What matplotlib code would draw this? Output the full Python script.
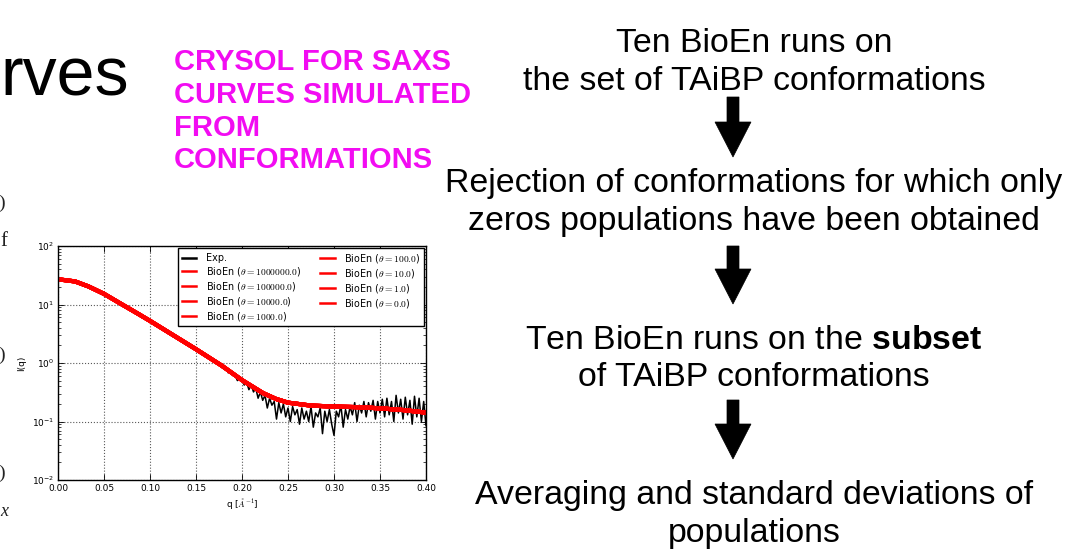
import numpy as np
import matplotlib
matplotlib.use("Agg")
import matplotlib.pyplot as plt
from matplotlib.patches import Polygon
from matplotlib.font_manager import FontProperties

W, H = 1070, 549

# ---------------- data ----------------
bioen_thetas = ["1000000.0", "100000.0", "10000.0", "1000.0",
                "100.0", "10.0", "1.0", "0.0"]

model_q = [0.004, 0.0185, 0.033, 0.05, 0.0692, 0.0873, 0.1, 0.1236, 0.15,
           0.178, 0.2, 0.212, 0.223, 0.237, 0.25, 0.275, 0.3, 0.325, 0.35,
           0.375, 0.4]
model_I = [26.5, 24.8, 20.4, 15.2, 10.1, 6.9, 5.25, 3.1, 1.72,
           0.9, 0.51, 0.39, 0.305, 0.243, 0.21, 0.187, 0.18, 0.176, 0.168,
           0.157, 0.142]

exp_q_low = [0.003, 0.0185, 0.033, 0.05, 0.0692, 0.0873, 0.1, 0.1236, 0.15, 0.165]
exp_I_low = [27.5, 24.8, 20.4, 15.2, 10.1, 6.9, 5.25, 3.1, 1.72, 1.2]

exp_q_tail = [0.1700, 0.1725, 0.1750, 0.1775, 0.1800, 0.1825, 0.1850, 0.1875,
              0.1900, 0.1925, 0.1950, 0.1975, 0.2000, 0.2025, 0.2050, 0.2075,
              0.2100, 0.2125, 0.2150, 0.2175, 0.2200, 0.2225, 0.2250, 0.2275,
              0.2300, 0.2325, 0.2350, 0.2375, 0.2400, 0.2425, 0.2450, 0.2475,
              0.2500, 0.2525, 0.2550, 0.2575, 0.2600, 0.2625, 0.2650, 0.2675,
              0.2700, 0.2725, 0.2750, 0.2775, 0.2800, 0.2825, 0.2850, 0.2875,
              0.2900, 0.2925, 0.2950, 0.2975, 0.3000, 0.3025, 0.3050, 0.3075,
              0.3100, 0.3125, 0.3150, 0.3175, 0.3200, 0.3225, 0.3250, 0.3275,
              0.3300, 0.3325, 0.3350, 0.3375, 0.3400, 0.3425, 0.3450, 0.3475,
              0.3500, 0.3525, 0.3550, 0.3575, 0.3600, 0.3625, 0.3650, 0.3675,
              0.3700, 0.3725, 0.3750, 0.3775, 0.3800, 0.3825, 0.3850, 0.3875,
              0.3900, 0.3925, 0.3950, 0.3975, 0.4000]
exp_I_tail = [1.05, 0.98, 0.96, 0.86, 0.80, 0.82, 0.68, 0.72,
              0.61, 0.63, 0.50, 0.56, 0.50, 0.42, 0.47, 0.35,
              0.42, 0.32, 0.37, 0.25, 0.32, 0.23, 0.28, 0.17,
              0.25, 0.19, 0.22, 0.11, 0.21, 0.14, 0.20, 0.12,
              0.17, 0.10, 0.18, 0.13, 0.16, 0.09, 0.17, 0.11,
              0.15, 0.10, 0.18, 0.08, 0.14, 0.12, 0.17, 0.062,
              0.15, 0.10, 0.16, 0.09, 0.058, 0.15, 0.12, 0.19,
              0.08, 0.16, 0.11, 0.18, 0.13, 0.21, 0.10, 0.19,
              0.14, 0.22, 0.12, 0.21, 0.15, 0.23, 0.11, 0.22,
              0.14, 0.24, 0.12, 0.25, 0.13, 0.22, 0.10, 0.28,
              0.14, 0.24, 0.11, 0.26, 0.13, 0.23, 0.09, 0.27,
              0.12, 0.25, 0.10, 0.22, 0.085]

x_ticks = [0.00, 0.05, 0.10, 0.15, 0.20, 0.25, 0.30, 0.35, 0.40]
x_ticklabels = ["0.00", "0.05", "0.10", "0.15", "0.20", "0.25", "0.30", "0.35", "0.40"]

flow_steps = [
    ["Ten BioEn runs on", "the set of TAiBP conformations"],
    ["Rejection of conformations for which only", "zeros populations have been obtained"],
    [r"Ten BioEn runs on the $\bf{subset}$", "of TAiBP conformations"],
    ["Averaging and standard deviations of", "populations"],
]
magenta_lines = ["CRYSOL FOR SAXS", "CURVES SIMULATED", "FROM", "CONFORMATIONS"]

# ---------------- figure ----------------
plt.rcParams['font.family'] = ['Liberation Sans', 'DejaVu Sans']
plt.rcParams['mathtext.bf'] = 'Liberation Sans:bold'
fig = plt.figure(figsize=(W / 100, H / 100), dpi=100)
fig.patch.set_facecolor('white')


def fx(x):
    return x / W


def fy(y):
    return 1 - y / H


# title fragment (the slide title is cut off at the left edge)
fig.text(fx(0), fy(95), "rves", fontsize=49, ha='left', va='baseline',
         color='black', family='Liberation Sans')

# magenta block
mag_base = [70, 103, 136, 168]
for line, b in zip(magenta_lines, mag_base):
    fig.text(fx(174), fy(b), line, fontsize=21, fontweight='bold',
             color='#f20cf2', ha='left', va='baseline', family='Liberation Sans')

# left-edge fragments of a neighbouring figure
frag_font = dict(family='Liberation Serif', color='#222222')
fig.text(fx(5), fy(203), ")", fontsize=14, ha='right', va='center', **frag_font)
fig.text(fx(0), fy(241), "f", fontsize=15, ha='left', va='center', **frag_font)
fig.text(fx(5), fy(355), ")", fontsize=14, ha='right', va='center', **frag_font)
fig.text(fx(5), fy(473), ")", fontsize=14, ha='right', va='center', **frag_font)
fig.text(fx(0), fy(512), "x", fontsize=13, style='italic', ha='left', va='center', **frag_font)

# flow chart
cx_text = 754
baselines = [(52, 90), (192, 230), (349, 386), (504, 542)]
for (l1, l2), (b1, b2) in zip(flow_steps, baselines):
    for s, b in ((l1, b1), (l2, b2)):
        fig.text(fx(cx_text), fy(b), s, fontsize=24.4, ha='center', va='baseline',
                 color='black', family='Liberation Sans',
                 math_fontfamily='custom')

cx_arrow = 733
arrows = [(97, 122, 157), (246, 269, 304), (400, 424, 459)]
for t, h, p in arrows:
    pts = [(cx_arrow - 6, t), (cx_arrow + 6, t), (cx_arrow + 6, h), (cx_arrow + 18, h),
           (cx_arrow, p), (cx_arrow - 18, h), (cx_arrow - 6, h)]
    poly = Polygon([(fx(a), fy(b)) for a, b in pts], closed=True,
                   transform=fig.transFigure, facecolor='black', edgecolor='black', lw=0.5)
    fig.patches.append(poly)

# ---------------- SAXS chart ----------------
ax = fig.add_axes([fx(58), fy(480), 368 / W, 234 / H])
exp_q = exp_q_low + exp_q_tail
exp_I = exp_I_low + exp_I_tail
ax.plot(exp_q, exp_I, color='black', lw=1.1, label='Exp.')
for th in bioen_thetas:
    ax.plot(model_q, model_I, color='red', lw=3.0,
            label=r'BioEn ($\theta = %s$)' % th)

ax.set_yscale('log')
ax.set_xlim(0, 0.4)
ax.set_ylim(1e-2, 1e2)
ax.set_xticks(x_ticks)
ax.set_xticklabels(x_ticklabels)
ax.tick_params(which='both', direction='in', top=True, right=True, labelsize=6.5,
               pad=3)
ax.tick_params(which='major', length=4, width=0.6)
ax.tick_params(which='minor', length=2, width=0.5)
ax.grid(True, which='major', linestyle=':', color='0.35', lw=0.8)
for sp in ax.spines.values():
    sp.set_linewidth(1.0)
    sp.set_color('black')

ax.set_xlabel(r'q [$\AA^{-1}$]', fontsize=6.5, labelpad=2,
              family='DejaVu Sans', math_fontfamily='cm')
ax.set_ylabel('I(q)', fontsize=6.5, labelpad=4, family='DejaVu Sans')
for lab in ax.get_xticklabels() + ax.get_yticklabels():
    lab.set_family('DejaVu Sans')

leg_prop = FontProperties(family='DejaVu Sans', size=6.9, math_fontfamily='cm')
leg = ax.legend(ncol=2, loc='upper right', prop=leg_prop, fancybox=False,
                edgecolor='black', framealpha=1, borderaxespad=0.25,
                handlelength=1.5, labelspacing=0.2, columnspacing=2.0,
                handletextpad=1.0, borderpad=0.35)
leg.get_frame().set_linewidth(1.0)
for lh in leg.get_lines():
    lh.set_linewidth(1.8)

fig.savefig('out.png', dpi=100)
